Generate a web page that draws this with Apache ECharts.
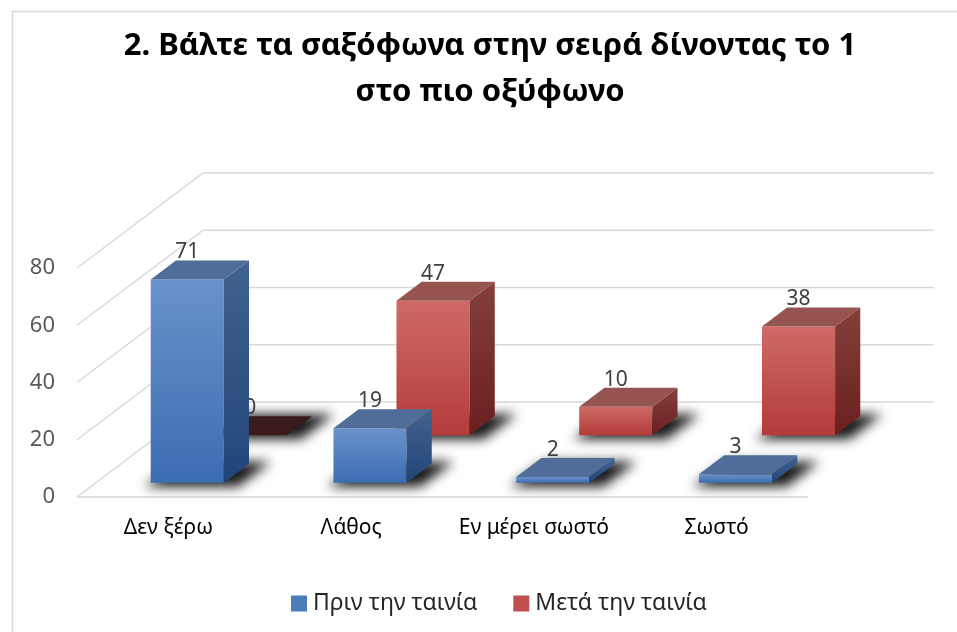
<!DOCTYPE html>
<html>
<head>
<meta charset="utf-8">
<script src="https://cdn.jsdelivr.net/npm/echarts@6/dist/echarts.min.js"></script>
<style>
  html, body { margin: 0; padding: 0; background: #fff; }
  #main { width: 957px; height: 632px; }
</style>
</head>
<body>
<div id="main"></div>
<script>
// data
var categories = ['Δεν ξέρω', 'Λάθος', 'Εν μέρει σωστό', 'Σωστό'];
var seriesNames = ['Πριν την ταινία', 'Μετά την ταινία'];
var before = [71, 19, 2, 3];
var after = [0, 47, 10, 38];
var yTicks = [0, 20, 40, 60, 80];

// oblique "3d" projection: how far the back wall is moved from the front plane
var DEPTH = [126, -95];
var BAR_W = 0.4;   // bar width as part of a category
var FONT = 'Noto Sans';
var FAR = 3000;    // shadow source is drawn off screen, only its blur comes back

var blueStyle = {
    front: ['#6a92cb', '#3b6db1'],
    side: ['#42638f', '#22457a'],
    top: '#4f6d98',
    topZero: '#4f6d98',
    legend: '#4a7ebb'
};
var redStyle = {
    front: ['#cf6a66', '#b33c39'],
    side: ['#84403c', '#6a1f1f'],
    top: '#955450',
    topZero: '#3b1c1c',
    legend: '#c0504d'
};

function vgrad(c) {
    return new echarts.graphic.LinearGradient(0, 0, 0, 1, [
        { offset: 0, color: c[0] }, { offset: 1, color: c[1] }
    ]);
}

// one row of boxes; d0/d1 = start and end of the row in depth (0 front, 1 back)
function boxRenderer(d0, d1, st) {
    return function (params, api) {
        var ci = api.value(0), v = api.value(1);
        var p0 = api.coord([ci, 0]);
        var p1 = api.coord([ci, v]);
        var bw = api.size([1, 0])[0] * BAR_W;
        var ox = DEPTH[0] * d0, oy = DEPTH[1] * d0;
        var dx = DEPTH[0] * (d1 - d0), dy = DEPTH[1] * (d1 - d0);
        var xl = p0[0] - bw / 2 + ox, xr = p0[0] + bw / 2 + ox;
        var yb = p0[1] + oy, yt = p1[1] + oy;
        var kids = [];
        // soft shadow on the floor, a little bigger than the footprint
        kids.push({
            type: 'polygon',
            shape: { points: [
                [xl - 10 - FAR, yb + 4], [xr + 10 - FAR, yb + 4],
                [xr + dx + 18 - FAR, yb + dy - 2], [xl + dx - FAR, yb + dy - 2]
            ] },
            style: { fill: '#000', shadowBlur: 12, shadowColor: 'rgba(0,0,0,0.9)', shadowOffsetX: FAR + 4, shadowOffsetY: 0 }
        });
        if (v > 0) {
            kids.push({
                type: 'polygon',
                shape: { points: [[xl, yb], [xr, yb], [xr, yt], [xl, yt]] },
                style: { fill: vgrad(st.front) }
            });
            kids.push({
                type: 'polygon',
                shape: { points: [[xr, yb], [xr + dx, yb + dy], [xr + dx, yt + dy], [xr, yt]] },
                style: { fill: vgrad(st.side) }
            });
        }
        kids.push({
            type: 'polygon',
            shape: { points: [[xl, yt], [xr, yt], [xr + dx, yt + dy], [xl + dx, yt + dy]] },
            style: { fill: v > 0 ? st.top : st.topZero }
        });
        kids.push({
            type: 'text',
            style: {
                text: String(v), x: (xl + xr) / 2, y: yt - 27,
                fill: '#404040', font: '21px "' + FONT + '"',
                textAlign: 'center', textVerticalAlign: 'middle'
            }
        });
        return { type: 'group', children: kids };
    };
}

// walls: side wall diagonals + back wall lines for every tick
function wallRenderer(params, api) {
    var v = api.value(1);
    var p = api.coord([0, v]);
    var cs = params.coordSys;
    var x0 = cs.x, x1 = cs.x + cs.width;
    var lineStyle = { stroke: '#d9d9d9', lineWidth: 1.5, fill: null };
    var kids = [{
        type: 'polyline',
        shape: { points: [[x0, p[1]], [x0 + DEPTH[0], p[1] + DEPTH[1]], [x1 + DEPTH[0], p[1] + DEPTH[1]]] },
        style: lineStyle
    }];
    if (v === 0) {
        kids.push({ type: 'line', shape: { x1: x0, y1: p[1], x2: x1, y2: p[1] }, style: lineStyle });
    }
    return { type: 'group', children: kids };
}

var myChart = echarts.init(document.getElementById('main'));

var option = {
    animation: false,
    backgroundColor: '#fff',
    title: {
        text: '2. Βάλτε τα σαξόφωνα στην σειρά δίνοντας το 1\nστο πιο οξύφωνο',
        left: 490,
        top: 23,
        padding: 0,
        textAlign: 'center',
        textStyle: { fontFamily: FONT, fontWeight: 'bold', fontSize: 31, lineHeight: 46, color: '#000' }
    },
    graphic: [{
        type: 'rect', left: 10, top: 9, z: -10,
        shape: { width: 1000, height: 700 },
        style: { fill: null, stroke: '#d9d9d9', lineWidth: 1.5 }
    }],
    legend: {
        data: seriesNames,
        left: 286, top: 587,
        icon: 'rect', itemWidth: 16, itemHeight: 16, itemGap: 36,
        textStyle: { fontFamily: FONT, fontSize: 23, color: '#262626', padding: [0, 0, 0, 1] }
    },
    grid: { left: 77, right: 149, top: 268, bottom: 135 },
    xAxis: {
        type: 'category',
        data: categories,
        axisLine: { show: false },
        axisTick: { show: false },
        axisLabel: { interval: 0, margin: 21, fontFamily: FONT, fontSize: 21, color: '#000' }
    },
    yAxis: {
        type: 'value', min: 0, max: 80, interval: 20,
        axisLine: { show: false },
        axisTick: { show: false },
        splitLine: { show: false },
        axisLabel: { margin: 22, fontFamily: FONT, fontSize: 22, color: '#595959' }
    },
    series: [
        {
            type: 'custom', name: 'walls', silent: true, z: 1,
            encode: { x: 0, y: 1 },
            data: yTicks.map(function (t) { return [0, t]; }),
            renderItem: wallRenderer
        },
        {
            type: 'custom', name: seriesNames[1], z: 2,
            encode: { x: 0, y: 1 },
            itemStyle: { color: redStyle.legend },
            data: after.map(function (v, i) { return [i, v]; }),
            renderItem: boxRenderer(0.65, 0.85, redStyle)
        },
        {
            type: 'custom', name: seriesNames[0], z: 3,
            encode: { x: 0, y: 1 },
            itemStyle: { color: blueStyle.legend },
            data: before.map(function (v, i) { return [i, v]; }),
            renderItem: boxRenderer(0.15, 0.35, blueStyle)
        }
    ]
};

myChart.setOption(option);
</script>
</body>
</html>
